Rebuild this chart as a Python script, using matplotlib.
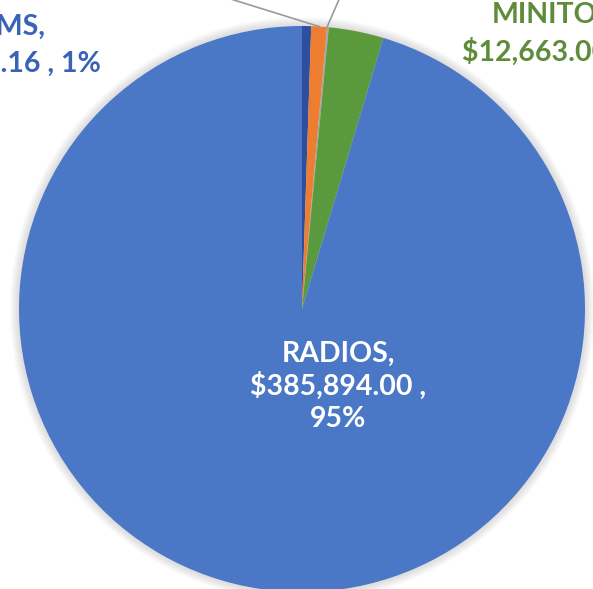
import numpy as np
import matplotlib
matplotlib.use("Agg")
import matplotlib.pyplot as plt
from matplotlib.patches import Circle

# slices clockwise from 12 o'clock
categories = ["ITEMS", "ACCESORIOS", "OTROS", "MINITORES", "RADIOS"]
values = [2100.16, 3600.00, 420.00, 12663.00, 385894.00]
colors = ["#2E4FA0", "#ED7D31", "#A5A5A5", "#5B9A3C", "#4A77C6"]

W, H = 593, 589
cx, cy, r = 302, H - 309, 283

fig = plt.figure(figsize=(W / 100, H / 100), dpi=100)
ax = fig.add_axes([0, 0, 1, 1])

# soft scan shadow around the pie
for k in range(1, 10):
    ax.add_patch(Circle((cx, cy), r + k, color="#9a9a9a", alpha=0.04, lw=0, zorder=0))

wedges, _ = ax.pie(values, colors=colors, startangle=90, counterclock=False,
                   center=(cx, cy), radius=r, wedgeprops=dict(linewidth=0))
for w in wedges:
    w.set_zorder(1)

ax.set_xlim(0, W)
ax.set_ylim(0, H)
ax.set_aspect("equal")
ax.axis("off")

def edge_point(w, frac=0.5):
    a = np.deg2rad(w.theta1 + frac * (w.theta2 - w.theta1))
    return cx + r * np.cos(a), cy + r * np.sin(a)

# leader lines to labels above the crop
x0, y0 = edge_point(wedges[1])
ax.plot([x0, x0 - 300], [y0, y0 + 300 * 28 / 90], color="#9a9a9a", lw=1.2, zorder=3)
x1, y1 = edge_point(wedges[2], 1.0)
ax.plot([x1, x1 + 30], [y1, y1 + 69], color="#9a9a9a", lw=1.2, zorder=3)

total = sum(values)
pct = [v / total * 100 for v in values]
font = dict(family="Lato", fontweight="bold", fontsize=20.5)

# left label (cropped)
ax.text(46, H - 27, f"{categories[0]},", color="#3A63B5", ha="right", va="center", **font)
ax.text(101, H - 63, f"${values[0]:,.2f} , {pct[0]:.0f}%", color="#3A63B5",
        ha="right", va="center", **font)

# right label (cropped)
ax.text(492, H - 15, f"{categories[3]},", color="#5E8C3A", ha="left", va="center", **font)
ax.text(462, H - 52, f"${values[3]:,.2f} , {pct[3]:.0f}%", color="#5E8C3A",
        ha="left", va="center", **font)

# main label
ax.text(338, H - 386, f"{categories[4]},\n${values[4]:,.2f} ,\n{pct[4]:.0f}%",
        color="white", ha="center", va="center", linespacing=1.25, **font)

fig.savefig("out.png", dpi=100)
